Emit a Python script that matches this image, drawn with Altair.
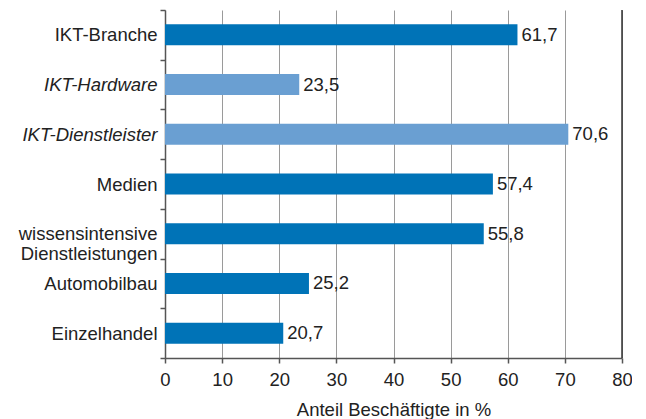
import altair as alt
import pandas as pd

categories = ["IKT-Branche", "IKT-Hardware", "IKT-Dienstleister", "Medien",
              "wissensintensive|Dienstleistungen", "Automobilbau", "Einzelhandel"]
values = [61.7, 23.5, 70.6, 57.4, 55.8, 25.2, 20.7]
value_labels = ["61,7", "23,5", "70,6", "57,4", "55,8", "25,2", "20,7"]
groups = ["main", "sub", "sub", "main", "main", "main", "main"]

df = pd.DataFrame({"cat": categories, "val": values, "lab": value_labels, "grp": groups})

FONT = "Liberation Sans"
TXT = "#222222"

y_enc = alt.Y("cat:N", sort=categories, title=None,
              scale=alt.Scale(paddingInner=0, paddingOuter=0),
              axis=alt.Axis(tickBand="extent", tickSize=5, tickColor="#555555",
                            domainColor="#555555", domainWidth=1.5, tickWidth=1.5,
                            labelPadding=3, labelFont=FONT, labelFontSize=18.5,
                            labelColor=TXT, labelLineHeight=19.5,
                            labelExpr="split(datum.label, '|')",
                            labelFontStyle={"condition": {"test": "datum.value == 'IKT-Hardware' || datum.value == 'IKT-Dienstleister'", "value": "italic"}, "value": "normal"},
                            grid=False))

x_enc = alt.X("val:Q", title="Anteil Beschäftigte in %",
              scale=alt.Scale(domain=[0, 80], nice=False),
              axis=alt.Axis(values=[0, 10, 20, 30, 40, 50, 60, 70, 80], grid=True,
                            gridColor="#9a9a9a", gridWidth=1, labelFlush=False,
                            tickSize=5, tickColor="#555555", tickWidth=1.5,
                            domainColor="#555555", domainWidth=1.5,
                            labelFont=FONT, labelFontSize=18.5, labelColor=TXT,
                            labelPadding=7, titleFont=FONT, titleFontSize=18.5,
                            titleFontWeight="normal", titleColor=TXT, titlePadding=12))

bars = alt.Chart(df).mark_bar(size=21).encode(
    x=x_enc, y=y_enc,
    color=alt.Color("grp:N", scale=alt.Scale(domain=["main", "sub"], range=["#0073b7", "#6a9fd2"]), legend=None),
)

text = alt.Chart(df).mark_text(align="left", baseline="middle", dx=4, font=FONT, fontSize=18.5, color=TXT).encode(
    x="val:Q", y=alt.Y("cat:N", sort=categories), text="lab:N")

border = alt.Chart(pd.DataFrame({"v": [80]})).mark_rule(color="#333333", strokeWidth=1.5).encode(x="v:Q")

chart = alt.layer(bars, text, border).properties(
    width=457, height=348,
    autosize=alt.AutoSizeParams(type="none"),
    padding={"left": 157, "top": 2, "right": 10, "bottom": 70},
).configure_view(stroke=None)

chart.save("out.html", embed_options={"renderer": "svg", "actions": False})
